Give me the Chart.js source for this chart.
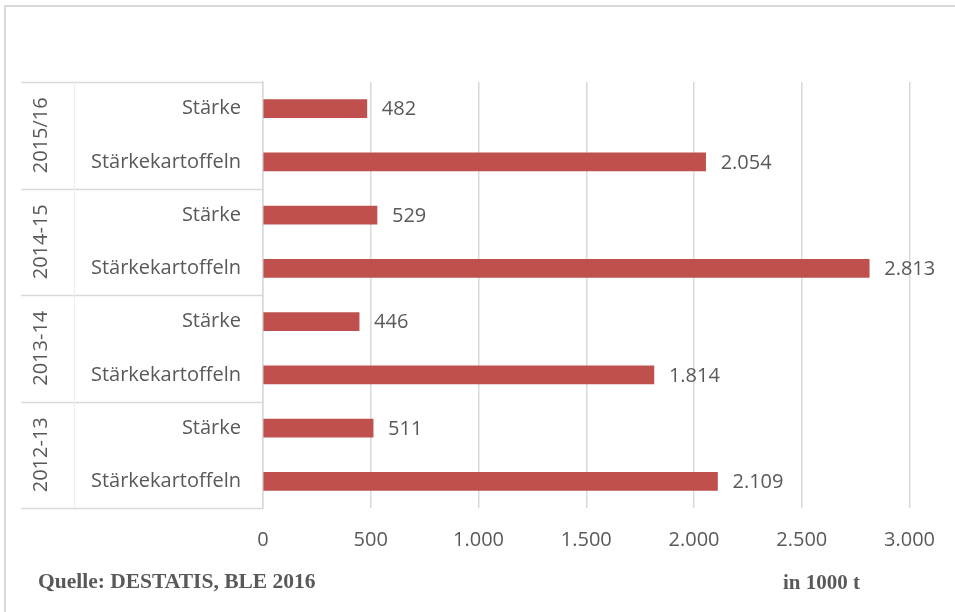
<!DOCTYPE html>
<html>
<head>
<meta charset="utf-8">
<script src="https://cdn.jsdelivr.net/npm/chart.js@4"></script>
<style>
  html, body { margin: 0; padding: 0; background: #fff; }
  #wrap { position: relative; width: 955px; height: 612px; }
  #frame { position: absolute; left: 4px; top: 5px; width: 960px; height: 620px; border-left: 2px solid #d9d9d9; border-top: 2px solid #d9d9d9; box-sizing: border-box; }
  .note { position: absolute; font-family: "Liberation Serif", serif; font-weight: bold; font-size: 21px; line-height: 24px; color: #595959; }
</style>
</head>
<body>
<div id="wrap">
  <div id="frame"></div>
  <canvas id="mainChart" width="955" height="612"></canvas>
  <div class="note" style="left:38px; top:569px; font-size:21.5px;">Quelle: DESTATIS, BLE 2016</div>
  <div class="note" style="left:783px; top:570px;">in 1000 t</div>
</div>
<script>
// Daten (von oben nach unten)
var jahre = ['2015/16', '2014-15', '2013-14', '2012-13'];
var produkte = ['Stärke', 'Stärkekartoffeln'];
var staerke = [482, 529, 446, 511];
var kartoffeln = [2054, 2813, 1814, 2109];
var xTicks = [0, 500, 1000, 1500, 2000, 2500, 3000];

var labels = [];
var werte = [];
for (var i = 0; i < jahre.length; i++) {
  labels.push(produkte[0]); werte.push(staerke[i]);
  labels.push(produkte[1]); werte.push(kartoffeln[i]);
}

var FONT = '"Open Sans", Lato, sans-serif';
var FSIZE = 20;
var GREY = '#595959';
var LINE = '#d9d9d9';

function deFormat(v) {
  return v.toString().replace(/\B(?=(\d{3})+(?!\d))/g, '.');
}

// Tabelle links + Jahreslabels + Werte an Balken
var extras = {
  id: 'extras',
  afterDraw: function(chart) {
    var ctx = chart.ctx;
    var y = chart.scales.y;
    var area = chart.chartArea;
    var step = y.getPixelForValue(1) - y.getPixelForValue(0);
    ctx.save();
    ctx.strokeStyle = LINE;
    ctx.lineWidth = 1.5;
    // horizontale Trennlinien
    for (var g = 0; g <= jahre.length; g++) {
      var py = Math.round(y.getPixelForValue(g * 2) - step / 2) + 0.5;
      ctx.beginPath();
      ctx.moveTo(21, py);
      ctx.lineTo(area.left, py);
      ctx.stroke();
    }
    // schwache senkrechte Linie
    ctx.strokeStyle = '#eeeeee';
    ctx.lineWidth = 1;
    ctx.beginPath();
    ctx.moveTo(74.5, area.top);
    ctx.lineTo(74.5, area.bottom);
    ctx.stroke();

    // Jahre gedreht
    ctx.fillStyle = GREY;
    ctx.font = FSIZE + 'px ' + FONT;
    ctx.textAlign = 'center';
    ctx.textBaseline = 'middle';
    for (var j = 0; j < jahre.length; j++) {
      var cy = (y.getPixelForValue(j * 2) + y.getPixelForValue(j * 2 + 1)) / 2;
      ctx.save();
      ctx.translate(41, cy);
      ctx.rotate(-Math.PI / 2);
      ctx.fillText(jahre[j], 0, 0);
      ctx.restore();
    }

    // Werte
    var meta = chart.getDatasetMeta(0);
    ctx.textAlign = 'left';
    meta.data.forEach(function(bar, k) {
      ctx.fillText(deFormat(werte[k]), bar.x + 15, bar.y + 1);
    });
    ctx.restore();
  }
};

var ctx = document.getElementById('mainChart');
var myChart = new Chart(ctx, {
  type: 'bar',
  data: {
    labels: labels,
    datasets: [{
      data: werte,
      backgroundColor: '#c0504d',
      barThickness: 18
    }]
  },
  options: {
    indexAxis: 'y',
    responsive: false,
    animation: false,
    layout: { padding: { left: 21, top: 82, right: 43, bottom: 0 } },
    plugins: { legend: { display: false }, tooltip: { enabled: false } },
    scales: {
      x: {
        min: 0,
        max: 3000,
        afterBuildTicks: function(s) { s.ticks = xTicks.map(function(v) { return { value: v }; }); },
        afterFit: function(s) { s.height = 104; },
        grid: { color: LINE, lineWidth: 1.5, drawTicks: false },
        border: { display: false },
        ticks: {
          padding: 20,
          color: GREY,
          font: { family: FONT, size: FSIZE },
          callback: function(v) { return deFormat(v); }
        }
      },
      y: {
        afterFit: function(s) { s.width = 242; },
        grid: { display: false },
        border: { display: true, color: LINE, width: 1.5 },
        ticks: {
          padding: 14,
          color: GREY,
          font: { family: FONT, size: FSIZE }
        }
      }
    }
  },
  plugins: [extras]
});
</script>
</body>
</html>
